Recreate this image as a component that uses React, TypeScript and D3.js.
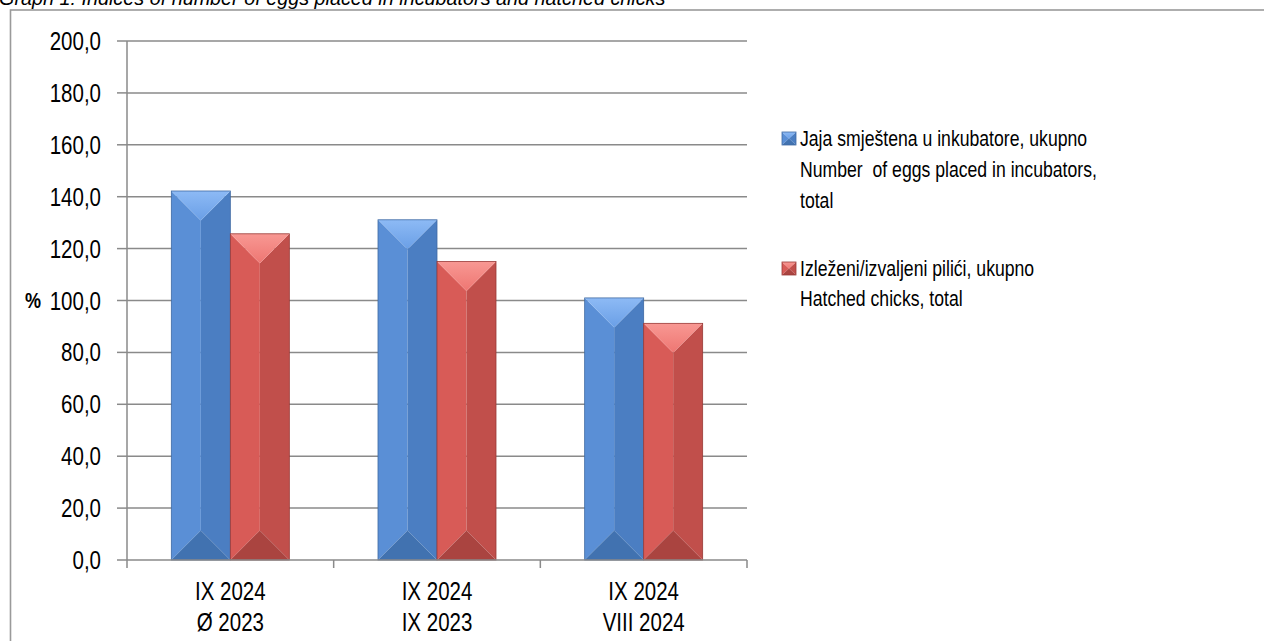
import React from "react";
import * as d3 from "d3";

const categoriesLine1 = ["IX 2024", "IX 2024", "IX 2024"];
const categoriesLine2 = ["Ø 2023", "IX 2023", "VIII 2024"];
const seriesNames = [
  ["Jaja smještena u inkubatore, ukupno", "Number  of eggs placed in incubators,", "total"],
  ["Izleženi/izvaljeni pilići, ukupno", "Hatched chicks, total"],
];
const eggsValues = [142.2, 131.1, 101.0];
const chicksValues = [125.7, 115.0, 91.2];
const yTicks = [0, 20, 40, 60, 80, 100, 120, 140, 160, 180, 200];
const title = "Graph 1: Indices of number of eggs placed in incubators and hatched chicks";

const W = 1264;
const H = 641;
const plotLeft = 127;
const plotRight = 747;
const plotTop = 41;
const plotBottom = 560;
const NARROW = 0.82;

const palettes = [
  { top: ["#8dbaf5", "#6a9fe6"], left: "#5a8fd6", right: "#4b7ec2", bottom: "#4172b0", stroke: "#3f6aa3" },
  { top: ["#f89893", "#ee7672"], left: "#d85b57", right: "#c14f4b", bottom: "#aa4440", stroke: "#993a37" },
];

function NText({ x, y, anchor = "start", size, children, dy, weight }: any) {
  return (
    <text
      transform={`translate(${x},${y}) scale(${NARROW},1)`}
      x={0}
      y={0}
      dy={dy}
      textAnchor={anchor}
      fontSize={size}
      fontWeight={weight}
      fill="#000"
      style={{ whiteSpace: "pre" }}
    >
      {children}
    </text>
  );
}

function Bar({ x, y, w, h, p, id }: any) {
  const cx = x + w / 2;
  const d = Math.min(w / 2, h / 2);
  const fmt = (pts: number[][]) => pts.map((q) => q.join(",")).join(" ");
  return (
    <g>
      <defs>
        <linearGradient id={id} x1="0" y1="0" x2="0" y2="1">
          <stop offset="0" stopColor={p.top[0]} />
          <stop offset="1" stopColor={p.top[1]} />
        </linearGradient>
      </defs>
      <polygon points={fmt([[x, y], [cx, y + d], [cx, y + h - d], [x, y + h]])} fill={p.left} />
      <polygon points={fmt([[x + w, y], [cx, y + d], [cx, y + h - d], [x + w, y + h]])} fill={p.right} />
      <polygon points={fmt([[x, y], [x + w, y], [cx, y + d]])} fill={`url(#${id})`} />
      <polygon points={fmt([[x, y + h], [x + w, y + h], [cx, y + h - d]])} fill={p.bottom} />
      <rect x={x} y={y} width={w} height={h} fill="none" stroke={p.stroke} strokeWidth={0.8} />
    </g>
  );
}

export default function App() {
  const x0 = d3.scaleBand<number>().domain(d3.range(categoriesLine1.length)).range([plotLeft, plotRight]).padding(0);
  const y = d3.scaleLinear().domain([0, 200]).range([plotBottom, plotTop]);
  const groupW = x0.bandwidth() * 0.571;
  const x1 = d3.scaleBand<number>().domain([0, 1]).range([0, groupW]).padding(0);
  const series = [eggsValues, chicksValues];
  const font = "'Liberation Sans', Arial, sans-serif";
  const boundaries = d3.range(categoriesLine1.length + 1).map((i) =>
    i < categoriesLine1.length ? (x0(i) as number) : plotRight
  );
  const legendTop = [146, 276];
  const legendStep = [31, 30];

  return (
    <svg width={W} height={H} style={{ position: "absolute", left: 0, top: 0, background: "#fff" }} fontFamily={font}>
      <rect x={0} y={0} width={W} height={H} fill="#fff" />
      <text x={-1} y={5} fontSize={19.8} fontStyle="italic" fill="#000">{title}</text>
      <rect x={10.5} y={10} width={W + 20} height={H + 20} fill="none" stroke="#9a9a9a" strokeWidth={1.6} />

      {yTicks.map((t) => (
        <g key={t}>
          {t > 0 && <line x1={plotLeft} x2={plotRight} y1={y(t)} y2={y(t)} stroke="#8a8a8a" strokeWidth={1.5} />}
          <line x1={plotLeft - 10} x2={plotLeft} y1={y(t)} y2={y(t)} stroke="#8a8a8a" strokeWidth={1.5} />
          <NText x={101} y={y(t)} dy="0.36em" anchor="end" size={25}>
            {d3.format(".1f")(t).replace(".", ",")}
          </NText>
        </g>
      ))}
      <line x1={plotLeft} x2={plotLeft} y1={plotTop} y2={plotBottom} stroke="#8a8a8a" strokeWidth={1.5} />

      {series.map((vals, si) =>
        vals.map((v, ci) => {
          const bx = (x0(ci) as number) + (x0.bandwidth() - groupW) / 2 + (x1(si) as number);
          return (
            <Bar key={`${si}-${ci}`} id={`g${si}${ci}`} x={bx} y={y(v)} w={x1.bandwidth()} h={y(0) - y(v)} p={palettes[si]} />
          );
        })
      )}

      <line x1={plotLeft} x2={plotRight} y1={plotBottom} y2={plotBottom} stroke="#8a8a8a" strokeWidth={1.5} />
      {boundaries.map((bx, i) => (
        <line key={i} x1={bx} x2={bx} y1={plotBottom} y2={plotBottom + 8} stroke="#8a8a8a" strokeWidth={1.5} />
      ))}
      {categoriesLine1.map((c, i) => {
        const cx = (x0(i) as number) + x0.bandwidth() / 2;
        return (
          <g key={i}>
            <NText x={cx} y={600} anchor="middle" size={25}>{c}</NText>
            <NText x={cx} y={631} anchor="middle" size={25}>{categoriesLine2[i]}</NText>
          </g>
        );
      })}

      <NText x={33} y={300} dy="0.36em" anchor="middle" size={22} weight="bold">%</NText>

      {seriesNames.map((lines, si) => {
        const baseY = legendTop[si];
        return (
          <g key={si}>
            <Bar id={`lg${si}`} x={782} y={baseY - 14} w={14} h={13} p={palettes[si]} />
            {lines.map((ln, li) => (
              <NText key={li} x={800} y={baseY + li * legendStep[si]} size={21.5}>
                {ln}
              </NText>
            ))}
          </g>
        );
      })}
    </svg>
  );
}
